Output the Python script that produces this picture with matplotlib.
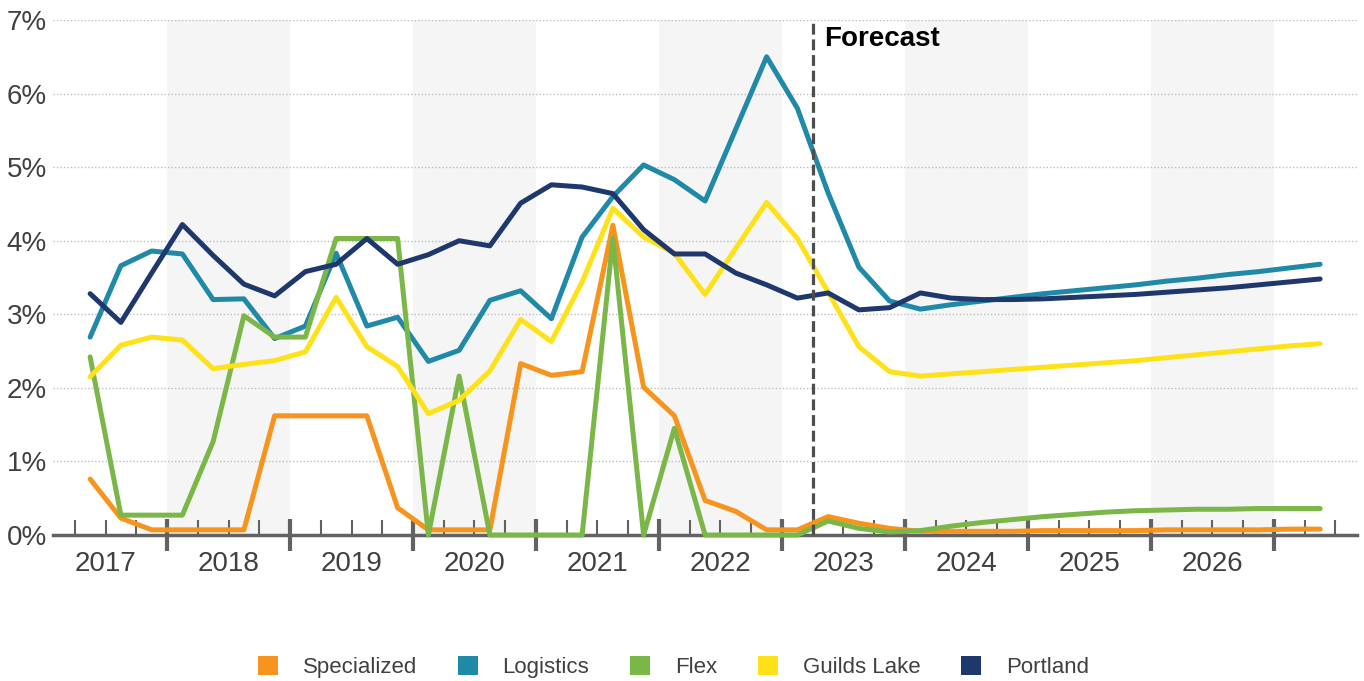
import matplotlib
matplotlib.use("Agg")
import matplotlib.pyplot as plt
from matplotlib.patches import Patch
import numpy as np
import pandas as pd

# Quarterly vacancy-rate series, 2017 Q2 through 2027 Q2
quarters = pd.period_range("2017Q2", "2027Q2", freq="Q")
year_labels = list(range(2017, 2027))
forecast_start = pd.Period("2023Q2", freq="Q")

specialized = [0.76, 0.23, 0.07, 0.07, 0.07, 0.07, 1.62, 1.62, 1.62, 1.62,
               0.37, 0.07, 0.07, 0.07, 2.33, 2.17, 2.22, 4.21, 2.01, 1.62,
               0.47, 0.32, 0.07, 0.07, 0.25, 0.16, 0.09, 0.05, 0.05, 0.05,
               0.05, 0.06, 0.06, 0.06, 0.06, 0.07, 0.07, 0.07, 0.07, 0.08, 0.08]
logistics = [2.69, 3.66, 3.86, 3.82, 3.20, 3.21, 2.67, 2.84, 3.83, 2.84,
             2.96, 2.36, 2.51, 3.19, 3.32, 2.94, 4.05, 4.60, 5.03, 4.83,
             4.54, 5.52, 6.50, 5.80, 4.65, 3.64, 3.18, 3.07, 3.13, 3.18,
             3.23, 3.28, 3.32, 3.36, 3.40, 3.45, 3.49, 3.54, 3.58, 3.63, 3.68]
flex = [2.42, 0.27, 0.27, 0.27, 1.27, 2.98, 2.69, 2.69, 4.03, 4.03,
        4.03, 0.00, 2.16, 0.00, 0.00, 0.00, 0.00, 4.03, 0.00, 1.45,
        0.00, 0.00, 0.00, 0.00, 0.19, 0.09, 0.04, 0.06, 0.12, 0.17,
        0.21, 0.25, 0.28, 0.31, 0.33, 0.34, 0.35, 0.35, 0.36, 0.36, 0.36]
guilds_lake = [2.15, 2.58, 2.69, 2.65, 2.26, 2.32, 2.37, 2.49, 3.23, 2.56,
               2.29, 1.65, 1.83, 2.23, 2.93, 2.63, 3.44, 4.44, 4.05, 3.83,
               3.27, 3.90, 4.52, 4.03, 3.30, 2.56, 2.22, 2.16, 2.19, 2.22,
               2.25, 2.28, 2.31, 2.34, 2.37, 2.41, 2.45, 2.49, 2.53, 2.57, 2.60]
portland = [3.28, 2.89, 3.56, 4.22, 3.80, 3.41, 3.25, 3.58, 3.68, 4.03,
            3.68, 3.81, 4.00, 3.93, 4.51, 4.76, 4.73, 4.64, 4.15, 3.82,
            3.82, 3.56, 3.40, 3.22, 3.29, 3.06, 3.09, 3.29, 3.22, 3.20,
            3.20, 3.21, 3.23, 3.25, 3.27, 3.30, 3.33, 3.36, 3.40, 3.44, 3.48]

series_names = ["Specialized", "Logistics", "Flex", "Guilds Lake", "Portland"]
series_values = [specialized, logistics, flex, guilds_lake, portland]
series_colors = ["#F7941E", "#2089A8", "#7AB648", "#FFE11A", "#1E386E"]

plt.rcParams["font.family"] = ["Liberation Sans", "DejaVu Sans"]

TEXT = "#404040"
AXIS = "#626262"

fig = plt.figure(figsize=(13.64, 6.81), dpi=100)
ax = fig.add_axes([53 / 1364, 1 - 535 / 681, 1304 / 1364, 515 / 681])

# position each quarter at its mid-point on a continuous year scale
x = np.array([p.year + (p.quarter - 0.5) / 4 for p in quarters])
x_forecast = forecast_start.year + (forecast_start.quarter - 1) / 4

# alternating year bands
for yr in year_labels:
    if (yr - year_labels[0]) % 2 == 1:
        ax.axvspan(yr, yr + 1, color="#F5F5F5", zorder=0, lw=0)

for name, vals, col in zip(series_names, series_values, series_colors):
    ax.plot(x, vals, color=col, lw=3.6, solid_capstyle="round",
            solid_joinstyle="round", clip_on=False, zorder=3, label=name)

ax.axvline(x_forecast, color="#4D4D4D", lw=2.3, ls=(0, (3.4, 1.5)), zorder=6)
ax.annotate("Forecast", xy=(x_forecast, 1), xycoords=("data", "axes fraction"),
            xytext=(8, -4.5), textcoords="offset points", ha="left", va="top",
            fontsize=20, fontweight="bold", color="black", zorder=7)

ax.set_xlim(2017 + 9 / 123, 2017 + 1313 / 123)
ax.set_ylim(0, 7)

ax.set_yticks(range(0, 8))
ax.set_yticklabels([f"{v}%" for v in range(0, 8)])
ax.tick_params(axis="y", length=0, pad=4.5, labelsize=20, labelcolor=TEXT)
ax.grid(axis="y", color="#BDBDBD", linestyle=(0, (1, 1.5)), linewidth=1.0)
ax.set_axisbelow(True)

ax.set_xticks(np.arange(year_labels[0] + 1, year_labels[-1] + 2))
ax.set_xticks(np.arange(year_labels[0] + 0.25, year_labels[-1] + 1.75, 0.25), minor=True)
ax.tick_params(axis="x", which="major", direction="inout", length=23, width=3,
               color=AXIS, labelbottom=False)
ax.tick_params(axis="x", which="minor", direction="in", length=11, width=1.5,
               color=AXIS)

for yr in year_labels:
    ax.text(yr + 0.5, -0.032, str(yr), transform=ax.get_xaxis_transform(),
            ha="center", va="top", fontsize=20, color=TEXT)

for side in ["left", "right", "top"]:
    ax.spines[side].set_visible(False)
ax.spines["bottom"].set_color(AXIS)
ax.spines["bottom"].set_linewidth(2.5)
ax.spines["bottom"].set_zorder(2)

handles = [Patch(facecolor=c, edgecolor="none", label=n)
           for n, c in zip(series_names, series_colors)]
fig.legend(handles=handles, loc="center", bbox_to_anchor=(0.4938, 1 - 667 / 681),
           ncol=5, frameon=False, fontsize=16, handlelength=0.9, handleheight=0.9,
           handletextpad=1.1, columnspacing=1.85, labelcolor=TEXT)

fig.savefig("out.png", dpi=100)
